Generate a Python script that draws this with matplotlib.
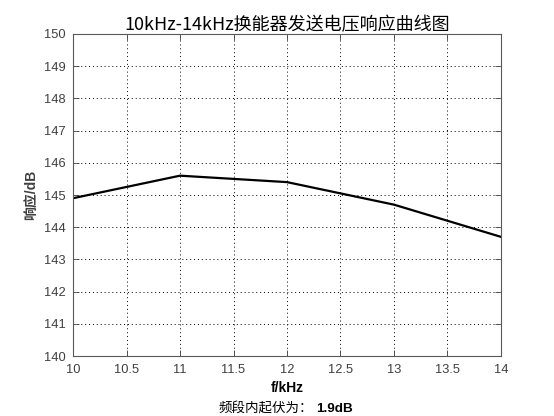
import matplotlib
matplotlib.use("Agg")
import matplotlib.pyplot as plt

plt.rcParams['font.family'] = ['Liberation Sans', 'Noto Sans CJK SC', 'DejaVu Sans']

# 频率 (kHz) 与 发送电压响应 (dB)
freq_khz = [10, 11, 12, 13, 14]
response_db = [144.9, 145.6, 145.4, 144.7, 143.7]
x_ticks = [10, 10.5, 11, 11.5, 12, 12.5, 13, 13.5, 14]
x_tick_labels = ['10', '10.5', '11', '11.5', '12', '12.5', '13', '13.5', '14']
y_ticks = list(range(140, 151))

ripple = max(response_db) - min(response_db)
cjk = ['Noto Sans CJK SC', 'DejaVu Sans']

fig = plt.figure(figsize=(5.54, 4.16), dpi=100)
ax = fig.add_axes([0.1318, 0.1442, 0.7725, 0.7741])

ax.plot(freq_khz, response_db, color='black', linewidth=1.6)

ax.set_xlim(10, 14)
ax.set_ylim(140, 150)
ax.set_xticks(x_ticks)
ax.set_xticklabels(x_tick_labels)
ax.set_yticks(y_ticks)

ax.grid(True, color='black', linestyle=(0, (1, 3)), linewidth=0.7)
ax.tick_params(direction='in', length=4, width=0.6, top=True, right=True,
               labelsize=9.3, colors='0.25')
ax.tick_params(axis='x', pad=6)
ax.tick_params(axis='y', pad=5)
for s in ax.spines.values():
    s.set_color('0.35')
    s.set_linewidth(0.8)

ax.set_title('10kHz-14kHz换能器发送电压响应曲线图', family=cjk,
             fontsize=13, pad=3)
ax.set_ylabel('响应/dB', family=['Liberation Sans', 'Noto Sans CJK SC'],
              fontsize=10, fontweight='bold', color='0.25', labelpad=4)
ax.set_xlabel('f/kHz', fontsize=10, fontweight='bold', labelpad=3)

fig.text(313 / 554, 1 - 409 / 416, '频段内起伏为：', family=cjk,
         fontsize=9.7, ha='right', va='center')
fig.text(316 / 554, 1 - 409 / 416, f'{ripple:.1f}dB', fontsize=9.7,
         fontweight='bold', ha='left', va='center')

fig.savefig('out.png', dpi=100)
